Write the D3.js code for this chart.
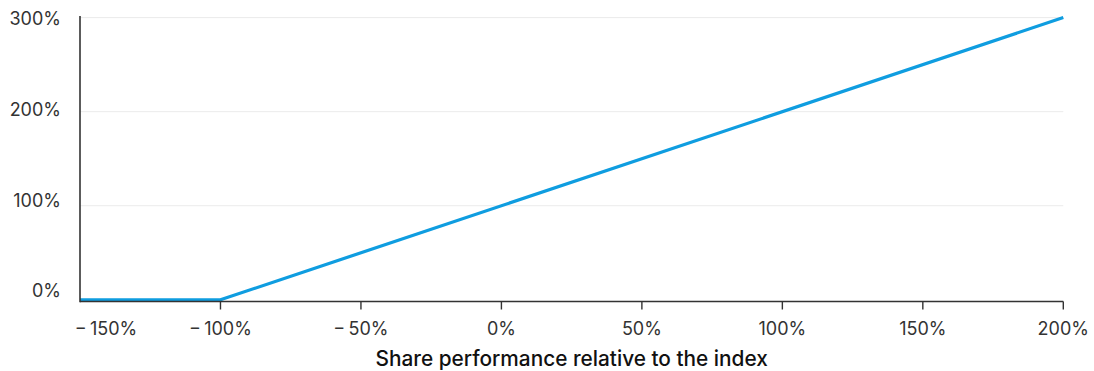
<!DOCTYPE html>
<html><head><meta charset="utf-8">
<script src="https://cdn.jsdelivr.net/npm/d3@7"></script>
<style>
html,body{margin:0;padding:0;background:#fff;}
svg{display:block;font-family:Inter, "Liberation Sans", sans-serif;}
</style></head>
<body><svg id="c" width="1094" height="371"></svg>
<script>
const xValues = [-150, -100, 200];
const yValues = [0, 0, 300];
const xTicks = [-150, -100, -50, 0, 50, 100, 150, 200];
const yTicks = [0, 100, 200, 300];
const xTitle = "Share performance relative to the index";

const svg = d3.select("#c");
const x = d3.scaleLinear().domain([-150, 200]).range([80, 1063.3]);
const y = d3.scaleLinear().domain([0, 300]).range([299.8, 17.6]);
const yLab = d3.scaleLinear().domain([0, 300]).range([291, 18.5]);
const fmt = v => (v < 0 ? "\u2212" + "\u2009" + Math.abs(v) : v) + "%";

// gridlines
svg.append("g").selectAll("line").data(yTicks.filter(d => d > 0)).join("line")
  .attr("x1", x(-150)).attr("x2", x(200))
  .attr("y1", d => y(d)).attr("y2", d => y(d))
  .attr("stroke", "#ebebeb").attr("stroke-width", 1);

// y labels
svg.append("g").selectAll("text").data(yTicks).join("text")
  .attr("x", 61).attr("y", d => yLab(d)).attr("dy", "0.36em")
  .attr("text-anchor", "end").attr("font-size", 18).attr("fill", "#333")
  .text(d => d + "%");

// line
const line = d3.line().x(d => x(d[0])).y(d => y(d[1]));
svg.append("path").datum(xValues.map((v, i) => [v, yValues[i]]))
  .attr("d", line).attr("fill", "none").attr("stroke", "#0f9de0")
  .attr("stroke-width", 3.2).attr("stroke-linejoin", "round");

// x axis
const xa = svg.append("g").attr("transform", "translate(0,301.5)");
xa.append("line").attr("x1", x(-150)).attr("x2", x(200)).attr("stroke", "#333").attr("stroke-width", 1.6);
xa.selectAll("line.t").data(xTicks.filter(d => d > -150)).join("line").attr("class", "t")
  .attr("x1", d => x(d)).attr("x2", d => x(d)).attr("y1", 0).attr("y2", 8)
  .attr("stroke", "#333").attr("stroke-width", 1.4);
xa.selectAll("text").data(xTicks).join("text")
  .attr("x", d => x(d) + (d === -150 ? 26 : 0)).attr("y", 27).attr("dy", "0.36em")
  .attr("text-anchor", "middle").attr("font-size", 18).attr("fill", "#333")
  .text(fmt);

// y axis line
svg.append("line").attr("x1", 80).attr("x2", 80).attr("y1", 16).attr("y2", 302.3)
  .attr("stroke", "#333").attr("stroke-width", 1.6);

// title
svg.append("text").attr("x", (x(-150) + x(200)) / 2).attr("y", 366)
  .attr("text-anchor", "middle").attr("font-size", 20.8).attr("font-weight", 500)
  .attr("fill", "#111").text(xTitle);
</script></body></html>
